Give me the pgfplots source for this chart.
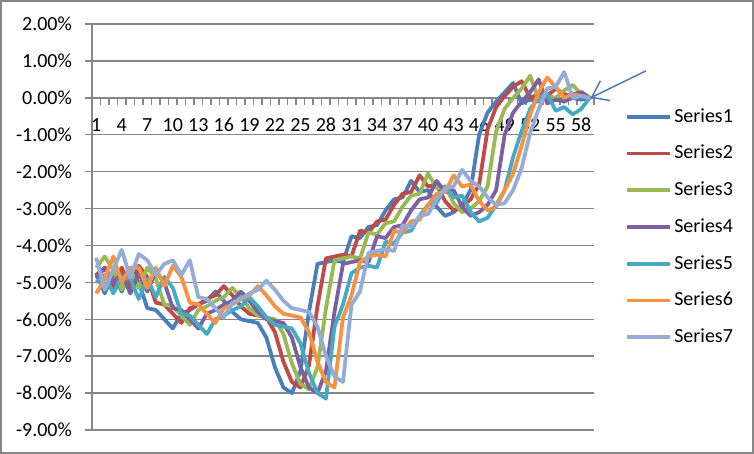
\documentclass[border=0pt]{standalone}
\usepackage{fontspec}
\setmainfont{Carlito}
\usepackage{pgfplots}
\pgfplotsset{compat=1.18}
\usepackage{pgfplotstable}
\usetikzlibrary{arrows.meta}

\definecolor{gridgray}{HTML}{868686}
\definecolor{c1}{HTML}{4A7EBB}
\definecolor{c2}{HTML}{BE4B48}
\definecolor{c3}{HTML}{98B954}
\definecolor{c4}{HTML}{7D60A0}
\definecolor{c5}{HTML}{46AAC5}
\definecolor{c6}{HTML}{F69240}
\definecolor{c7}{HTML}{92ADD8}

% values in percent, one row per period
\pgfplotstableread{
c  s1    s2    s3    s4    s5    s6    s7
1  -4.75 -4.8  -4.6  -4.9  -5.0  -5.3  -4.33
2  -5.3  -4.6  -4.3  -4.6  -4.8  -4.9  -5.2
3  -4.75 -5.15 -4.65 -5.0  -5.3  -4.3  -4.65
4  -5.25 -4.6  -5.2  -4.75 -4.85 -5.0  -4.12
5  -4.7  -5.1  -4.65 -5.3  -4.9  -4.6  -4.87
6  -5.0  -4.55 -5.15 -4.75 -5.45 -4.6  -4.23
7  -5.7  -4.85 -4.6  -5.25 -4.9  -5.15 -4.4
8  -5.75 -5.55 -4.9  -4.7  -5.4  -4.6  -4.8
9  -6.0  -5.6  -5.6  -5.0  -4.85 -5.1  -4.5
10 -6.25 -5.85 -5.65 -5.7  -5.15 -4.55 -4.4
11 -5.85 -6.1  -5.9  -5.75 -5.85 -4.85 -4.8
12 -5.75 -5.7  -6.15 -6.0  -5.9  -5.55 -4.4
13 -5.6  -5.6  -5.75 -6.25 -6.15 -5.6  -5.4
14 -5.5  -5.45 -5.65 -5.85 -6.4  -5.85 -5.45
15 -5.25 -5.35 -5.5  -5.75 -6.0  -6.1  -5.7
16 -5.5  -5.1  -5.4  -5.6  -5.9  -5.7  -5.95
17 -5.8  -5.35 -5.15 -5.5  -5.75 -5.6  -5.55
18 -6.0  -5.65 -5.4  -5.25 -5.65 -5.45 -5.45
19 -6.05 -5.85 -5.7  -5.5  -5.4  -5.35 -5.3
20 -6.1  -5.9  -5.9  -5.8  -5.65 -5.1  -5.2
21 -6.5  -5.95 -5.95 -6.0  -5.95 -5.35 -4.95
22 -7.3  -6.35 -6.0  -6.05 -6.15 -5.65 -5.2
23 -7.85 -7.15 -6.4  -6.1  -6.2  -5.85 -5.5
24 -8.0  -7.7  -7.2  -6.5  -6.25 -5.9  -5.7
25 -7.4  -7.85 -7.75 -7.3  -6.65 -5.95 -5.75
26 -5.8  -7.25 -7.9  -7.85 -7.45 -6.35 -5.8
27 -4.5  -5.65 -7.3  -8.0  -8.0  -7.15 -6.2
28 -4.45 -4.35 -5.7  -7.4  -8.15 -7.7  -7.0
29 -4.4  -4.3  -4.4  -5.8  -6.2  -7.85 -7.55
30 -4.45 -4.25 -4.35 -4.5  -5.6  -5.95 -7.7
31 -3.75 -4.3  -4.3  -4.45 -4.75 -5.35 -5.6
32 -3.8  -3.6  -4.35 -4.4  -4.6  -4.45 -5.25
33 -3.5  -3.65 -3.65 -4.45 -4.55 -4.3  -4.2
34 -3.45 -3.35 -3.7  -3.75 -4.6  -4.25 -4.15
35 -3.05 -3.3  -3.4  -3.8  -3.9  -4.3  -4.1
36 -2.75 -2.9  -3.35 -3.5  -3.95 -3.6  -4.15
37 -2.7  -2.6  -2.95 -3.45 -3.65 -3.65 -3.45
38 -2.25 -2.55 -2.65 -3.05 -3.6  -3.35 -3.5
39 -2.55 -2.1  -2.6  -2.75 -3.2  -3.3  -3.2
40 -2.5  -2.4  -2.05 -2.7  -2.9  -2.9  -3.15
41 -2.95 -2.35 -2.45 -2.25 -2.85 -2.6  -2.75
42 -3.2  -2.8  -2.4  -2.55 -2.4  -2.55 -2.45
43 -3.1  -3.05 -2.85 -2.5  -2.7  -2.1  -2.4
44 -2.9  -2.95 -3.1  -2.95 -2.65 -2.4  -1.95
45 -2.5  -2.75 -3.0  -3.2  -3.1  -2.35 -2.25
46 -1.0  -2.35 -2.8  -3.1  -3.35 -2.8  -2.4
47 -0.4  -0.85 -2.4  -2.9  -3.25 -3.05 -2.7
48 -0.1  -0.25 -0.9  -2.5  -2.9  -2.95 -2.9
49 0.15  0.05  -0.3  -1.0  -2.5  -2.5  -2.85
50 0.4   0.3   0.0   -0.4  -1.6  -2.05 -2.5
51 -0.15 0.45  0.25  -0.1  -0.9  -1.3  -1.9
52 -0.05 0.0   0.6   0.15  -0.3  -0.45 -0.95
53 -0.1  0.1   -0.05 0.5   0.0   0.15  -0.3
54 0.1   0.05  0.05  -0.15 0.1   0.55  0.25
55 -0.05 0.25  0.0   -0.05 -0.35 0.3   0.3
56 -0.1  0.1   0.2   -0.1  -0.25 0.0   0.7
57 0.0   0.05  0.35  0.1   -0.45 0.1   0.0
58 -0.05 0.15  0.1   0.15  -0.3  0.05  0.05
59 0.0   0.0   0.0   0.0   0.0   0.0   0.0
}\series

\begin{document}
\fontsize{10}{12}\selectfont
\begin{tikzpicture}
\begin{axis}[
  width=251pt, height=203pt, scale only axis,
  xmin=0.5, xmax=59.5, ymin=-9, ymax=2,
  axis x line=middle, axis y line=left,
  axis line style={-, draw=gridgray, line width=0.75pt},
  hide obscured x ticks=false, hide obscured y ticks=false,
  ytick={-9,-8,...,2},
  yticklabels={-9.00\%,-8.00\%,-7.00\%,-6.00\%,-5.00\%,-4.00\%,-3.00\%,-2.00\%,-1.00\%,0.00\%,1.00\%,2.00\%},
  ymajorgrids, grid style={gridgray, line width=0.75pt},
  xtick={0.5,1.5,...,59.5}, xticklabels={},
  extra x ticks={1,4,...,58},
  extra x tick labels={1,4,7,10,13,16,19,22,25,28,31,34,37,40,43,46,49,52,55,58},
  extra x tick style={tick style={draw=none}},
  tick style={gridgray, line width=0.75pt},
  major tick length=3.5pt,
  tick align=outside,
  yticklabel style={xshift=-3pt},
  xticklabel style={yshift=-3.2pt},
  every tick label/.append style={font=\fontsize{10}{12}\selectfont, text=black},
  clip=false,
  every axis plot/.append style={line width=1.9pt, line join=round},
  legend image code/.code={\draw[#1] (0pt,0pt) -- (21.5pt,0pt);},
  legend cell align=left,
  legend style={draw=none, fill=none, at={(1.062,0.5)}, anchor=west,
    inner xsep=0pt, inner ysep=0pt, row sep=8pt,
    font=\fontsize{10}{12}\selectfont, nodes={inner sep=1pt}},
]
\addplot[c1] table[x=c, y=s1] {\series};
\addplot[c2] table[x=c, y=s2] {\series};
\addplot[c3] table[x=c, y=s3] {\series};
\addplot[c4] table[x=c, y=s4] {\series};
\addplot[c5] table[x=c, y=s5] {\series};
\addplot[c6] table[x=c, y=s6] {\series};
\addplot[c7] table[x=c, y=s7] {\series};
\legend{Series1,Series2,Series3,Series4,Series5,Series6,Series7}
\draw[c1, line width=0.75pt, -{Straight Barb[length=7.5pt,width=11pt]}]
  (axis cs:65.6,0.73) -- (axis cs:59.1,0);
\coordinate (ll) at (rel axis cs:0,0);
\coordinate (ur) at (rel axis cs:1,1);
\end{axis}
\draw[gridgray, line width=0.8pt]
  ([xshift=-45.6pt,yshift=-11.6pt]ll) rectangle ([xshift=79.6pt,yshift=11.6pt]ur);
\end{tikzpicture}
\end{document}
